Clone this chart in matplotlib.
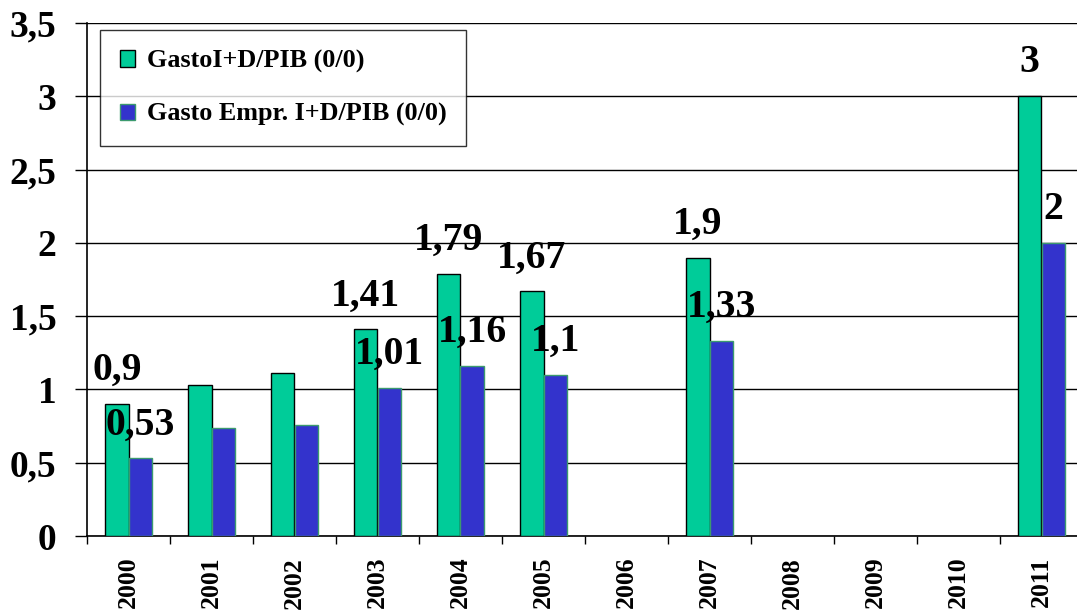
import matplotlib
matplotlib.use("Agg")
import matplotlib.pyplot as plt
import numpy as np

years = ["2000", "2001", "2002", "2003", "2004", "2005", "2006", "2007",
         "2008", "2009", "2010", "2011"]
gasto_total = [0.9, 1.03, 1.11, 1.41, 1.79, 1.67, np.nan, 1.9, np.nan, np.nan, np.nan, 3.0]
gasto_empr = [0.53, 0.74, 0.76, 1.01, 1.16, 1.1, np.nan, 1.33, np.nan, np.nan, np.nan, 2.0]
labels_total = ["0,9", "", "", "1,41", "1,79", "1,67", "", "1,9", "", "", "", "3"]
labels_empr = ["0,53", "", "", "1,01", "1,16", "1,1", "", "1,33", "", "", "", "2"]
yticks = [0, 0.5, 1, 1.5, 2, 2.5, 3, 3.5]
ytick_labels = ["0", "0,5", "1", "1,5", "2", "2,5", "3", "3,5"]
legend_labels = ["GastoI+D/PIB (0/0)", "Gasto Empr. I+D/PIB (0/0)"]

plt.rcParams['font.family'] = ['Liberation Serif', 'DejaVu Serif']
plt.rcParams['font.weight'] = 'bold'

W, H = 1077, 615
fig = plt.figure(figsize=(W / 100, H / 100), dpi=100)
ax = fig.add_axes([87 / W, (H - 536) / H, (1083 - 87) / W, (536 - 23) / H])

x = np.arange(len(years))
bw = 0.283
green = "#00CC99"
blue = "#3333CC"

ax.set_axisbelow(True)
ax.yaxis.grid(True, color="black", linewidth=1.0)

b1 = ax.bar(x - bw / 2, gasto_total, bw, color=green, edgecolor="black", linewidth=1.0,
            label=legend_labels[0], zorder=3)
b2 = ax.bar(x + bw / 2, gasto_empr, bw, color=blue, edgecolor="#3C9A6E", linewidth=1.0,
            label=legend_labels[1], zorder=3)

for xi, v, lab in zip(x, gasto_total, labels_total):
    if lab:
        ax.annotate(lab, (xi - bw / 2, v), xytext=(0, 24), textcoords="offset points",
                    ha="center", va="center", fontsize=28.5, fontweight="bold", zorder=5)
for xi, v, lab in zip(x, gasto_empr, labels_empr):
    if lab:
        ax.annotate(lab, (xi + bw / 2, v), xytext=(0, 24), textcoords="offset points",
                    ha="center", va="center", fontsize=28.5, fontweight="bold", zorder=5)

ax.set_xlim(-0.5, len(years) - 0.5)
ax.set_ylim(0, 3.5)
ax.set_yticks(yticks)
ax.set_yticklabels(ytick_labels, fontsize=27, fontweight="bold")
ax.tick_params(axis="y", length=9, width=1.0, pad=13)

ax.set_xticks(x - 0.5, minor=False)
ax.set_xticklabels([""] * len(years))
ax.set_xticks(x, minor=True)
ax.set_xticklabels(years, minor=True, rotation=90, fontsize=18.5, fontweight="bold")
ax.tick_params(axis="x", which="major", length=6, width=1.0, direction="out")
ax.tick_params(axis="x", which="minor", length=0, pad=15)

for s in ["top", "right"]:
    ax.spines[s].set_visible(False)
ax.spines["left"].set_linewidth(1.2)
ax.spines["bottom"].set_linewidth(1.2)

leg = ax.legend(loc="upper left", bbox_to_anchor=((100 - 87) / (1083 - 87), 1 - (30 - 23) / (536 - 23)),
                fontsize=18.8, frameon=True, fancybox=False, edgecolor="black",
                handlelength=0.6, handleheight=0.6, labelspacing=1.15, borderpad=0.75,
                handletextpad=0.45, borderaxespad=0)
leg.get_frame().set_linewidth(1.0)
leg.set_zorder(6)
for t in leg.get_texts():
    t.set_fontweight("bold")

fig.savefig("out.png", dpi=100)
